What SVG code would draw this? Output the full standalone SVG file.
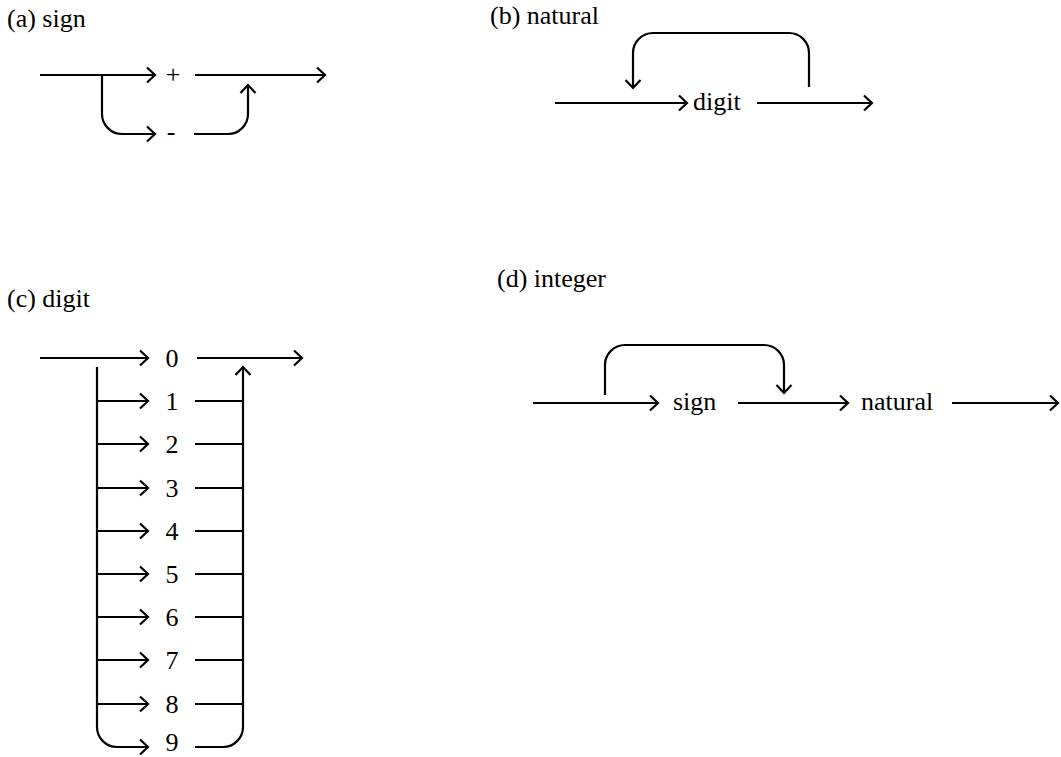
<svg xmlns="http://www.w3.org/2000/svg" width="1061" height="757" viewBox="0 0 1061 757">
  <defs>
    <style>
      .t { font-family: "Liberation Serif", "Times New Roman", serif; font-size: 26px; fill: #000; }
      .lbl { text-anchor: middle; }
      .c { fill: none; stroke: #000; stroke-width: 2.2; stroke-linecap: butt; }
      .a { marker-end: url(#arrow); }
    </style>
    <!-- open chevron arrowhead -->
    <marker id="arrow" markerUnits="userSpaceOnUse" markerWidth="20" markerHeight="20" viewBox="-10 -10 20 20" refX="0" refY="0" orient="auto">
      <path d="M-8,-7.5 L0,0 L-8,7.5" fill="none" stroke="#000" stroke-width="2.2" stroke-linejoin="miter"/>
    </marker>
  </defs>
  <rect width="1061" height="757" fill="#fff"/>

  <!-- headings -->
  <g id="titles">
    <text class="t" x="7" y="27">(a) sign</text>
    <text class="t" x="490" y="24">(b) natural</text>
    <text class="t" x="7" y="307">(c) digit</text>
    <text class="t" x="497" y="287">(d) integer</text>
  </g>

  <g id="connectors">
    <!-- (a) sign -->
    <path class="c a" d="M40,75 H155"/>
    <path class="c a" d="M195,75 H325"/>
    <path class="c a" d="M102,75 V114 A20,20 0 0 0 122,134 H155"/>
    <path class="c a" d="M194,134 H228 A20,20 0 0 0 248,114 V85"/>

    <!-- (b) natural -->
    <path class="c a" d="M555,103 H687"/>
    <path class="c a" d="M757,103 H872"/>
    <path class="c a" d="M809,87 V53 A20,20 0 0 0 789,33 H653 A20,20 0 0 0 633,53 V88"/>

    <!-- (c) digit -->
    <path class="c a" d="M40,358 H148"/>
    <path class="c a" d="M197,358 H302"/>
    <path class="c a" d="M97,367 V727 A20,20 0 0 0 117,747 H148"/>
    <path class="c a" d="M97,401 H148"/>
    <path class="c a" d="M97,444 H148"/>
    <path class="c a" d="M97,488 H148"/>
    <path class="c a" d="M97,531 H148"/>
    <path class="c a" d="M97,574 H148"/>
    <path class="c a" d="M97,617 H148"/>
    <path class="c a" d="M97,660 H148"/>
    <path class="c a" d="M97,704 H148"/>
    <path class="c" d="M195,401 H243"/>
    <path class="c" d="M195,444 H243"/>
    <path class="c" d="M195,488 H243"/>
    <path class="c" d="M195,531 H243"/>
    <path class="c" d="M195,574 H243"/>
    <path class="c" d="M195,617 H243"/>
    <path class="c" d="M195,660 H243"/>
    <path class="c" d="M195,704 H243"/>
    <path class="c a" d="M195,747 H223 A20,20 0 0 0 243,727 V367"/>

    <!-- (d) integer -->
    <path class="c a" d="M533,403 H658"/>
    <path class="c a" d="M738,403 H848"/>
    <path class="c a" d="M952,403 H1058"/>
    <path class="c a" d="M605,395 V365 A20,20 0 0 1 625,345 H764 A20,20 0 0 1 784,365 V393"/>
  </g>

  <!-- (a) terminals -->
  <g id="sign-plus"><text class="t lbl" x="173" y="83">+</text></g>
  <g id="sign-minus"><text class="t lbl" x="171" y="140">-</text></g>

  <!-- (b) nonterminal -->
  <g id="natural-digit"><text class="t" x="693" y="110">digit</text></g>

  <!-- (c) terminals -->
  <g id="digit-0"><text class="t lbl" x="172" y="367">0</text></g>
  <g id="digit-1"><text class="t lbl" x="172" y="410">1</text></g>
  <g id="digit-2"><text class="t lbl" x="172" y="453">2</text></g>
  <g id="digit-3"><text class="t lbl" x="172" y="497">3</text></g>
  <g id="digit-4"><text class="t lbl" x="172" y="540">4</text></g>
  <g id="digit-5"><text class="t lbl" x="172" y="583">5</text></g>
  <g id="digit-6"><text class="t lbl" x="172" y="626">6</text></g>
  <g id="digit-7"><text class="t lbl" x="172" y="669">7</text></g>
  <g id="digit-8"><text class="t lbl" x="172" y="713">8</text></g>
  <g id="digit-9"><text class="t lbl" x="172" y="751">9</text></g>

  <!-- (d) nonterminals -->
  <g id="integer-sign"><text class="t" x="673" y="410">sign</text></g>
  <g id="integer-natural"><text class="t" x="861" y="410">natural</text></g>
</svg>
